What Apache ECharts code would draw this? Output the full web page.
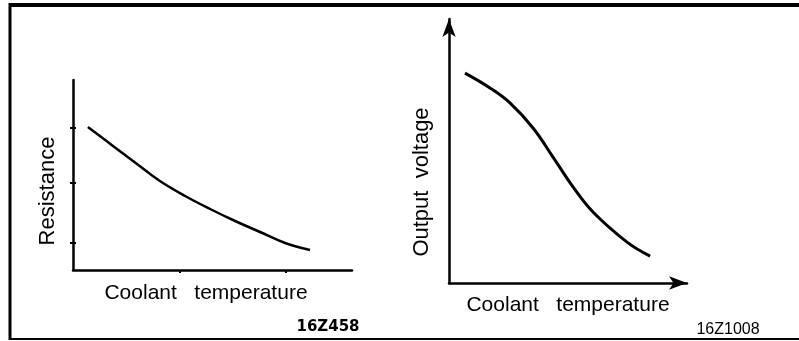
<!DOCTYPE html>
<html>
<head>
<meta charset="utf-8">
<script src="https://cdn.jsdelivr.net/npm/echarts@6/dist/echarts.min.js"></script>
<style>
  html, body { margin: 0; padding: 0; background: #fff; }
  #chart { width: 799px; height: 341px; }
</style>
</head>
<body>
<div id="chart"></div>
<script>
// Thermistor characteristic: resistance vs coolant temperature
const resTemp  = [5.6, 15.8, 24.1, 32.7, 42.2, 51.6, 61.0, 70.4, 79.8, 89.2];
const resValue = [14.3, 12.25, 10.6, 8.9, 7.4, 6.1, 4.9, 3.8, 2.7, 2.0];
const resTicksX = [40, 80];
const resTicksY = [2.7, 8.7, 14.2];

// Sensor output voltage vs coolant temperature
const voltTemp  = [6.7, 17.2, 25.6, 35.3, 43.7, 52.1, 60.5, 74.8, 84.5];
const voltValue = [79.5, 73.9, 68.2, 58.7, 47.7, 36.4, 26.9, 15.5, 10.2];

const xTitle = 'Coolant   temperature';
const resTitle = 'Resistance';
const voltTitle = 'Output  voltage';
const refLeft = '16Z458';
const refRight = '16Z1008';

const ink = '#000';
const font = 'Liberation Sans, Arial, sans-serif';

const chart = echarts.init(document.getElementById('chart'), null, { renderer: 'canvas' });

function pairs(xs, ys) { return xs.map((x, i) => [x, ys[i]]); }

chart.setOption({
  backgroundColor: '#fff',
  animation: false,
  grid: [
    { left: 73, right: 447, top: 80, bottom: 71 },
    { left: 449, right: 112, top: 19, bottom: 58 }
  ],
  xAxis: [
    {
      gridIndex: 0, type: 'value', min: 0, max: 105,
      axisLine: { show: true, lineStyle: { color: ink, width: 2.5 } },
      axisTick: { show: true, length: 3, customValues: resTicksX, lineStyle: { color: ink, width: 2 } },
      axisLabel: { show: false },
      splitLine: { show: false }
    },
    {
      gridIndex: 1, type: 'value', min: 0, max: 100,
      axisLine: { show: true, symbol: ['none', 'arrow'], symbolSize: [10, 18],
                  lineStyle: { color: ink, width: 2.5 } },
      axisTick: { show: false },
      axisLabel: { show: false },
      splitLine: { show: false }
    }
  ],
  yAxis: [
    {
      gridIndex: 0, type: 'value', min: 0, max: 19,
      axisLine: { show: true, lineStyle: { color: ink, width: 2.5 } },
      axisTick: { show: true, length: 3, customValues: resTicksY, lineStyle: { color: ink, width: 2 } },
      axisLabel: { show: false },
      splitLine: { show: false }
    },
    {
      // inner half of the cross-shaped ticks
      gridIndex: 0, type: 'value', min: 0, max: 19, position: 'left',
      axisLine: { show: false },
      axisTick: { show: true, inside: true, length: 3, customValues: resTicksY, lineStyle: { color: ink, width: 2 } },
      axisLabel: { show: false },
      splitLine: { show: false }
    },
    {
      gridIndex: 1, type: 'value', min: 0, max: 100,
      axisLine: { show: true, symbol: ['none', 'arrow'], symbolSize: [10, 18],
                  lineStyle: { color: ink, width: 2.5 } },
      axisTick: { show: false },
      axisLabel: { show: false },
      splitLine: { show: false }
    }
  ],
  series: [
    {
      type: 'line', xAxisIndex: 0, yAxisIndex: 0,
      data: pairs(resTemp, resValue),
      smooth: 0.4, showSymbol: false,
      lineStyle: { color: ink, width: 2.5 }
    },
    {
      type: 'line', xAxisIndex: 1, yAxisIndex: 2,
      data: pairs(voltTemp, voltValue),
      smooth: 0.4, showSymbol: false,
      lineStyle: { color: ink, width: 3 }
    }
  ],
  graphic: [
    // page frame
    { type: 'line', shape: { x1: 10, y1: 5, x2: 799, y2: 5 }, style: { stroke: ink, lineWidth: 4 } },
    { type: 'line', shape: { x1: 10, y1: 3, x2: 10, y2: 340 }, style: { stroke: ink, lineWidth: 3 } },
    { type: 'line', shape: { x1: 10, y1: 339, x2: 799, y2: 339 }, style: { stroke: ink, lineWidth: 2 } },
    // axis titles
    { type: 'text', x: 48, y: 191, rotation: Math.PI / 2,
      style: { text: resTitle, font: '22px ' + font, fill: ink, align: 'center', verticalAlign: 'middle' } },
    { type: 'text', x: 206, y: 293,
      style: { text: xTitle, font: '21px ' + font, fill: ink, align: 'center', verticalAlign: 'middle' } },
    { type: 'text', x: 422, y: 182, rotation: Math.PI / 2,
      style: { text: voltTitle, font: '22px ' + font, fill: ink, align: 'center', verticalAlign: 'middle' } },
    { type: 'text', x: 568, y: 305,
      style: { text: xTitle, font: '21px ' + font, fill: ink, align: 'center', verticalAlign: 'middle' } },
    // figure reference numbers
    { type: 'text', x: 328, y: 327,
      style: { text: refLeft, font: 'bold 15px DejaVu Sans, sans-serif', fill: ink, align: 'center', verticalAlign: 'middle' } },
    { type: 'text', x: 728, y: 330,
      style: { text: refRight, font: '16px ' + font, fill: ink, align: 'center', verticalAlign: 'middle' } }
  ]
});
</script>
</body>
</html>
